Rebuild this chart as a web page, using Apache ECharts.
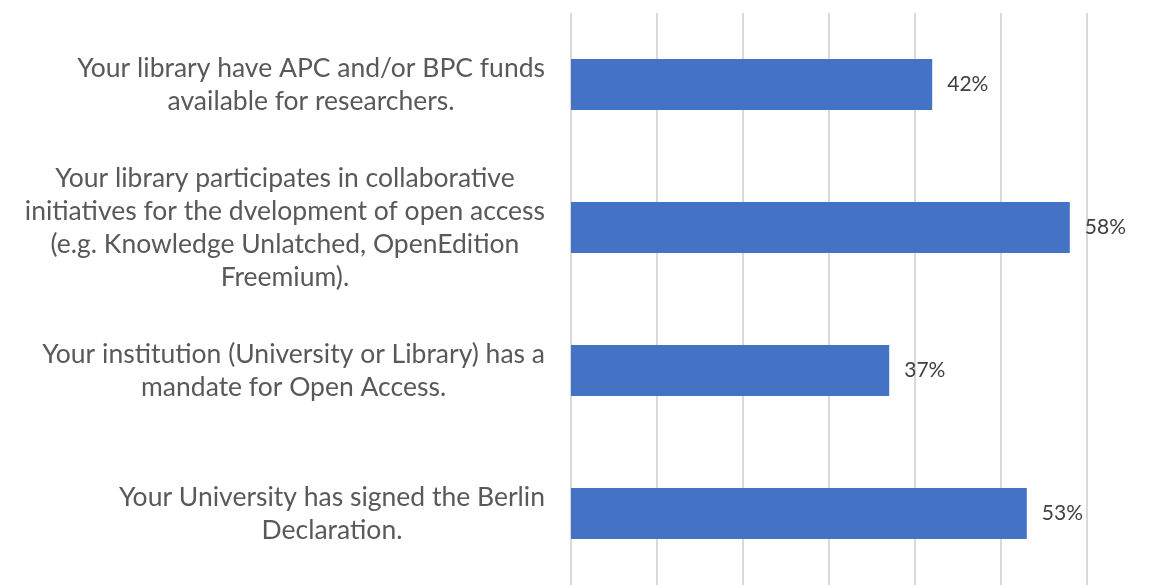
<!DOCTYPE html>
<html>
<head>
<meta charset="utf-8">
<script src="https://cdn.jsdelivr.net/npm/echarts@6/dist/echarts.min.js"></script>
<style>
  html, body { margin: 0; padding: 0; background: #fff; }
  #chart { width: 1164px; height: 585px; }
</style>
</head>
<body>
<div id="chart"></div>
<script>
  // categories, top to bottom
  var categories = [
    'Your library have APC and/or BPC funds\navailable for researchers.',
    'Your library participates in collaborative\ninitiatives for the dvelopment of open access\n(e.g. Knowledge Unlatched, OpenEdition\nFreemium).',
    'Your institution (University or Library) has a\nmandate for Open Access.',
    'Your University has signed the Berlin\nDeclaration.'
  ]
  var values = [42, 58, 37, 53]

  var myChart = echarts.init(document.getElementById('chart'))
  myChart.setOption({
    animation: false,
    grid: {
      left: 571,
      right: 77,
      top: 13,
      height: 576
    },
    xAxis: {
      type: 'value',
      min: 0,
      max: 60,
      interval: 10,
      axisLabel: { show: false },
      axisLine: { show: false },
      axisTick: { show: false },
      splitLine: {
        show: true,
        lineStyle: { color: '#d9d9d9', width: 2 }
      }
    },
    yAxis: {
      type: 'category',
      inverse: true,
      data: categories,
      axisLine: { show: false },
      axisTick: { show: false },
      axisLabel: {
        margin: 26,
        formatter: function (v) {
          // center each line inside the label block
          return v.split('\n').map(function (s) { return '{c|' + s + '}' }).join('\n')
        },
        rich: {
          c: {
            align: 'center',
            fontFamily: 'Lato',
            fontSize: 26.5,
            lineHeight: 33,
            color: '#595959'
          }
        }
      }
    },
    series: [
      {
        type: 'bar',
        data: values,
        barWidth: 51,
        itemStyle: { color: '#4472c4' },
        label: {
          show: true,
          position: 'right',
          distance: 15,
          formatter: '{c}%',
          fontFamily: 'Lato',
          fontSize: 21,
          color: '#404040'
        }
      }
    ]
  })
</script>
</body>
</html>
